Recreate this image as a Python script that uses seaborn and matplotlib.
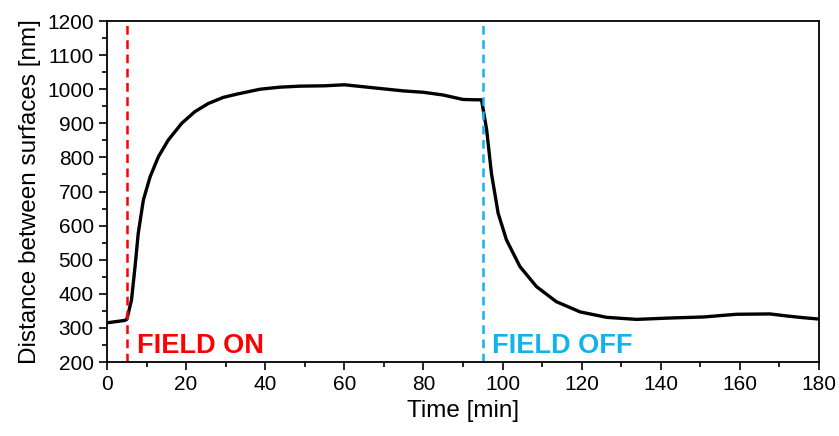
import matplotlib
matplotlib.use("Agg")
import matplotlib.pyplot as plt
import seaborn as sns
import pandas as pd
from matplotlib.ticker import MultipleLocator

time_min = [0, 2, 4.5, 5.0, 5.4, 6.2, 7.1, 7.9, 9.2, 10.9, 13.0, 15.5, 18.9, 22.2, 25.6, 29.4,
            33, 38.7, 43.7, 48.8, 55, 60, 65, 70, 75, 80, 85, 90, 93, 94.7,
            96.0, 97.2, 98.9, 101.0, 104.4, 108.6, 113.6, 119.6, 126.3, 133.9, 142.3,
            150.7, 159.2, 167.6, 171.9, 176, 180]
distance_nm = [315, 318, 322, 325, 343, 382, 480, 577, 675, 743, 802, 851, 900, 934, 958, 976,
               986, 1000, 1006, 1009, 1010, 1013, 1007, 1001, 995, 991, 983, 970, 969, 969,
               880, 753, 636, 558, 480, 421, 377, 347, 331, 325, 329,
               332, 340, 341, 335, 330, 326]
field_on_t = 5
field_off_t = 95
labels = ["FIELD ON", "FIELD OFF"]

df = pd.DataFrame({"t": time_min, "d": distance_nm})

sns.set_style("ticks")
plt.rcParams["font.family"] = ["Liberation Sans", "DejaVu Sans"]
plt.rcParams["text.color"] = "black"
plt.rcParams["axes.labelcolor"] = "black"

fig = plt.figure(figsize=(8.39, 4.36), dpi=100)
ax = fig.add_axes([0.1275, 0.1697, 0.8486, 0.7821])

sns.lineplot(data=df, x="t", y="d", ax=ax, color="black", linewidth=2.4, sort=False)

red = "#FF0000"
blue = "#12B2EA"
ax.axvline(field_on_t, color=red, linestyle=(0, (3.5, 2.2)), linewidth=1.8)
ax.axvline(field_off_t, color=blue, linestyle=(0, (3.5, 2.2)), linewidth=1.8)
ax.text(7.6, 226, labels[0], color=red, fontsize=19.5, fontweight="bold", va="baseline")
ax.text(97.3, 226, labels[1], color=blue, fontsize=19.5, fontweight="bold", va="baseline")

ax.set_xlim(0, 180)
ax.set_ylim(200, 1200)
ax.xaxis.set_major_locator(MultipleLocator(20))
ax.xaxis.set_minor_locator(MultipleLocator(10))
ax.yaxis.set_major_locator(MultipleLocator(100))
ax.yaxis.set_minor_locator(MultipleLocator(50))
ax.tick_params(which="major", direction="out", length=6, width=1.2, labelsize=15,
               colors="black", labelcolor="black")
ax.tick_params(which="minor", direction="out", length=3.5, width=1.2, colors="black")
for s in ax.spines.values():
    s.set_visible(True)
    s.set_linewidth(1.3)
    s.set_color("black")
ax.set_xlabel("Time [min]", fontsize=17.5, color="black", labelpad=4)
ax.set_ylabel("Distance between surfaces [nm]", fontsize=17.5, color="black", labelpad=4)

fig.savefig("out.png", dpi=100)
